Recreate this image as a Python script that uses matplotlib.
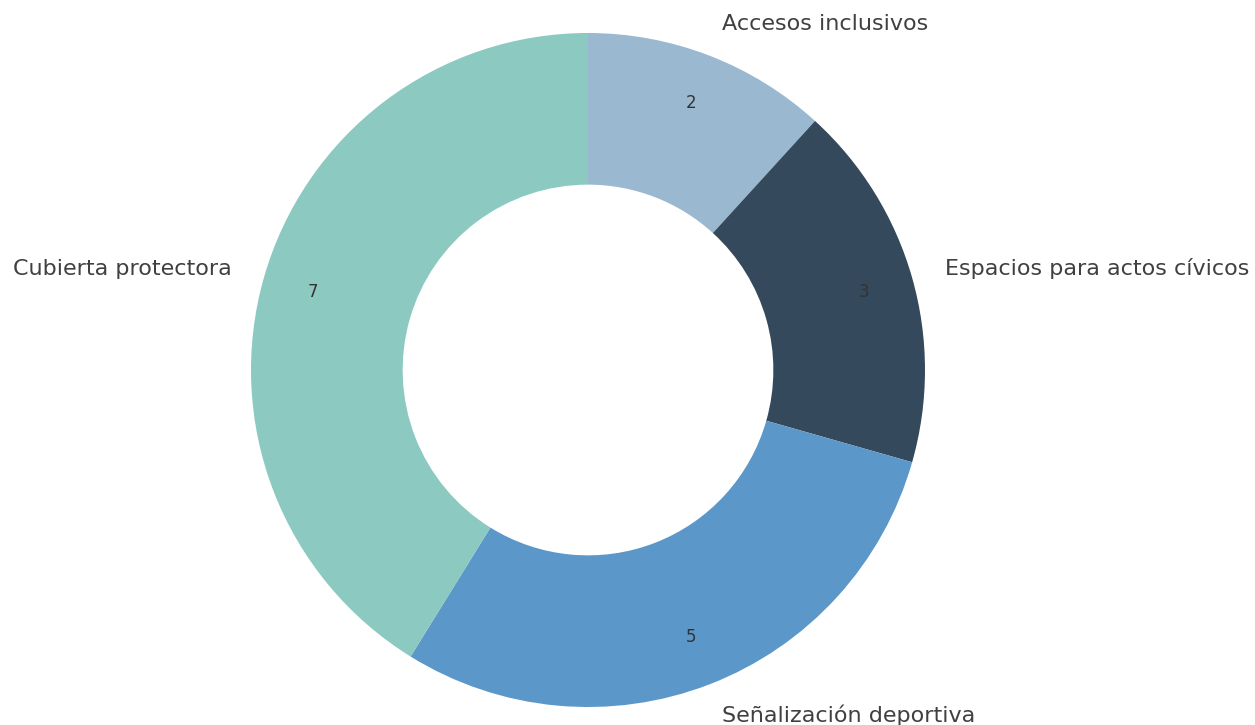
import matplotlib
matplotlib.use("Agg")
import matplotlib.pyplot as plt

categories = ["Accesos inclusivos", "Espacios para actos cívicos", "Señalización deportiva", "Cubierta protectora"]
values = [2, 3, 5, 7]
colors = ["#9bb8d1", "#34495b", "#5b97c8", "#8bc9c1"]

W, H = 1255, 725
fig = plt.figure(figsize=(W / 100, H / 100), dpi=100)
ax = fig.add_axes([0, 0, 1, 1])

wedges, texts, autotexts = ax.pie(
    values, labels=categories, colors=colors, startangle=90, counterclock=False,
    autopct=lambda p: f"{round(p * sum(values) / 100):d}", pctdistance=0.85,
    labeldistance=1.1, wedgeprops=dict(width=0.45, edgecolor="none"),
    textprops=dict(color="#404040", fontsize=16),
)
for t in autotexts:
    t.set_fontsize(12)
    t.set_color("#333333")

r = 337.0
cx, cy = 588.0, 725 - 370.0
ax.set_xlim(-cx / r, (W - cx) / r)
ax.set_ylim(-cy / r, (H - cy) / r)
ax.set_aspect("auto")
ax.axis("off")

fig.savefig("out.png", dpi=100)
